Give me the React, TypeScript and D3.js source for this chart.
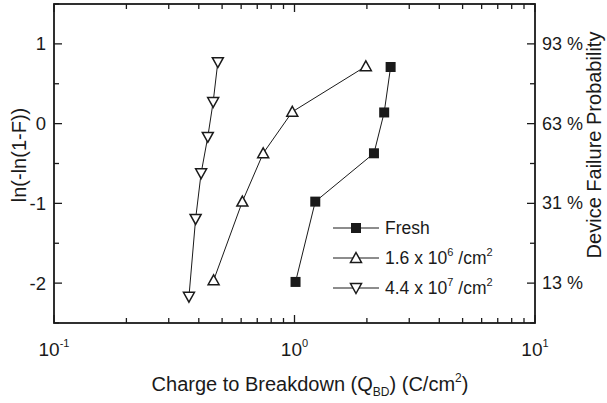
import React from "react";
import * as d3 from "d3";

const freshQ = [1.01, 1.22, 2.14, 2.36, 2.51];
const freshW = [-1.985, -0.978, -0.372, 0.14, 0.71];
const lowQ = [0.461, 0.607, 0.741, 0.979, 1.98];
const lowW = [-1.965, -0.978, -0.372, 0.148, 0.719];
const highQ = [0.364, 0.388, 0.409, 0.436, 0.459, 0.48];
const highW = [-2.17, -1.194, -0.622, -0.165, 0.272, 0.772];

const yMajor = [-2, -1, 0, 1];
const yMinor = [-2.5, -1.5, -0.5, 0.5, 1.5];
const rightLabels = ["13 %", "31 %", "63 %", "93 %"];
const xMajor = [0.1, 1, 10];
const xExp = ["-1", "0", "1"];

const W = 607;
const H = 403;
const L = 54, R = 535, T = 4, B = 323;
const FONT = "'Liberation Sans', Arial, Helvetica, sans-serif";
const INK = "#1a1a1a";

export default function App() {
  const x = d3.scaleLog().domain([0.1, 10]).range([L, R]);
  const y = d3.scaleLinear().domain([-2.5, 1.5]).range([B, T]);
  const line = d3.line<[number, number]>().x((d) => x(d[0])).y((d) => y(d[1]));

  const xMinor: number[] = [];
  for (const dec of [0.1, 1]) for (let k = 2; k <= 9; k++) xMinor.push(dec * k);

  const series = [
    { name: "fresh", q: freshQ, w: freshW, kind: "square" },
    { name: "low", q: lowQ, w: lowW, kind: "up" },
    { name: "high", q: highQ, w: highW, kind: "down" },
  ];

  const marker = (kind: string, cx: number, cy: number, key?: any) => {
    if (kind === "square") {
      return <rect key={key} x={cx - 5} y={cy - 5} width={10} height={10} fill={INK} />;
    }
    const s = 5.5;
    const pts =
      kind === "up"
        ? [[cx, cy - s], [cx + s, cy + s * 0.8], [cx - s, cy + s * 0.8]]
        : [[cx, cy + s], [cx + s, cy - s * 0.8], [cx - s, cy - s * 0.8]];
    return (
      <polygon key={key} points={pts.map((p) => p.join(",")).join(" ")} fill="white" stroke={INK} strokeWidth={1.5} />
    );
  };

  const legendRows = [
    { kind: "square", y: 228, label: <tspan>Fresh</tspan> },
    {
      kind: "up",
      y: 258,
      label: (
        <>
          <tspan>1.6 x 10</tspan>
          <tspan fontSize={11} dy={-8}>6</tspan>
          <tspan dy={8}> /cm</tspan>
          <tspan fontSize={11} dy={-8}>2</tspan>
        </>
      ),
    },
    {
      kind: "down",
      y: 288,
      label: (
        <>
          <tspan>4.4 x 10</tspan>
          <tspan fontSize={11} dy={-8}>7</tspan>
          <tspan dy={8}> /cm</tspan>
          <tspan fontSize={11} dy={-8}>2</tspan>
        </>
      ),
    },
  ];

  return (
    <svg width={W} height={H} style={{ position: "absolute", left: 0, top: 0, background: "white" }} fontFamily={FONT}>
      {yMajor.map((v) => (
        <g key={"ym" + v}>
          <line x1={L} x2={L + 8} y1={y(v)} y2={y(v)} stroke={INK} strokeWidth={1.3} />
          <line x1={R} x2={R - 8} y1={y(v)} y2={y(v)} stroke={INK} strokeWidth={1.3} />
        </g>
      ))}
      {yMinor.map((v) => (
        <g key={"yn" + v}>
          <line x1={L} x2={L + 5} y1={y(v)} y2={y(v)} stroke={INK} strokeWidth={1.3} />
          <line x1={R} x2={R - 5} y1={y(v)} y2={y(v)} stroke={INK} strokeWidth={1.3} />
        </g>
      ))}
      {xMajor.map((v) => (
        <g key={"xm" + v}>
          <line x1={x(v)} x2={x(v)} y1={B} y2={B - 8} stroke={INK} strokeWidth={1.3} />
          <line x1={x(v)} x2={x(v)} y1={T} y2={T + 8} stroke={INK} strokeWidth={1.3} />
        </g>
      ))}
      {xMinor.map((v) => (
        <g key={"xn" + v}>
          <line x1={x(v)} x2={x(v)} y1={B} y2={B - 5} stroke={INK} strokeWidth={1.3} />
          <line x1={x(v)} x2={x(v)} y1={T} y2={T + 5} stroke={INK} strokeWidth={1.3} />
        </g>
      ))}
      <rect x={L} y={T} width={R - L} height={B - T} fill="none" stroke={INK} strokeWidth={1.8} />

      {series.map((s) => {
        const pts = s.q.map((q, i) => [q, s.w[i]] as [number, number]);
        return (
          <g key={s.name}>
            <path d={line(pts) || ""} fill="none" stroke={INK} strokeWidth={1} />
            {pts.map((p, i) => marker(s.kind, x(p[0]), y(p[1]), i))}
          </g>
        );
      })}

      {legendRows.map((r, i) => (
        <g key={"lg" + i}>
          <line x1={333} x2={379} y1={r.y} y2={r.y} stroke={INK} strokeWidth={1} />
          {marker(r.kind, 356, r.y)}
          <text x={385} y={r.y + 6} fontSize={17.5} fill={INK}>
            {r.label}
          </text>
        </g>
      ))}

      {yMajor.map((v) => (
        <text key={"yl" + v} x={46} y={y(v) + 6.5} fontSize={18.5} textAnchor="end" fill={INK}>
          {v < 0 ? "-" + Math.abs(v) : String(v)}
        </text>
      ))}
      {yMajor.map((v, i) => (
        <text key={"yr" + v} x={542} y={y(v) + 6} fontSize={18} textAnchor="start" fill={INK}>
          {rightLabels[i]}
        </text>
      ))}
      {xMajor.map((v, i) => (
        <text key={"xl" + v} x={x(v)} y={356} fontSize={19} textAnchor="middle" fill={INK}>
          <tspan>10</tspan>
          <tspan fontSize={11} dy={-9}>{xExp[i]}</tspan>
        </text>
      ))}

      <text x={310} y={391} fontSize={20} textAnchor="middle" fill={INK}>
        <tspan>Charge to Breakdown (Q</tspan>
        <tspan fontSize={12} dy={5}>BD</tspan>
        <tspan dy={-5}>) (C/cm</tspan>
        <tspan fontSize={12} dy={-9}>2</tspan>
        <tspan dy={9}>)</tspan>
      </text>
      <text transform={`translate(26,155) rotate(-90)`} fontSize={20} textAnchor="middle" fill={INK}>
        ln(-ln(1-F))
      </text>
      <text transform={`translate(601,145) rotate(-90)`} fontSize={20} textAnchor="middle" fill={INK}>
        Device Failure Probability
      </text>
    </svg>
  );
}
